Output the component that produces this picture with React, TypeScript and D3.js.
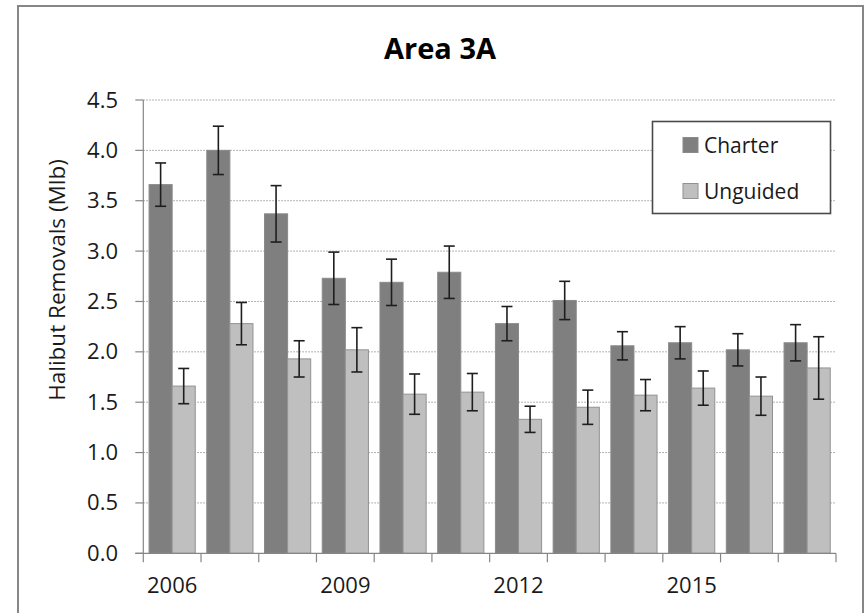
import React from "react";
import * as d3 from "d3";

const years = ["2006", "2007", "2008", "2009", "2010", "2011", "2012", "2013", "2014", "2015", "2016", "2017"];
const seriesNames = ["Charter", "Unguided"];
const charter = [3.66, 4.0, 3.37, 2.73, 2.69, 2.79, 2.28, 2.51, 2.06, 2.09, 2.02, 2.09];
const charterErr = [0.215, 0.24, 0.28, 0.26, 0.23, 0.26, 0.17, 0.19, 0.14, 0.16, 0.16, 0.18];
const unguided = [1.66, 2.28, 1.93, 2.02, 1.58, 1.6, 1.33, 1.45, 1.57, 1.64, 1.56, 1.84];
const unguidedErr = [0.175, 0.21, 0.18, 0.22, 0.2, 0.185, 0.13, 0.17, 0.155, 0.17, 0.19, 0.31];
const yTicks = [0, 0.5, 1, 1.5, 2, 2.5, 3, 3.5, 4, 4.5];
const xTickLabels = ["2006", "2009", "2012", "2015"];
const title = "Area 3A";
const yTitle = "Halibut Removals (Mlb)";

const W = 868;
const H = 613;
const plot = { left: 143.3, right: 836, top: 100, bottom: 553.3 };
const fills = ["#7f7f7f", "#bfbfbf"];
const strokes = ["#8a8a8a", "#929292"];
const FONT = "'Open Sans', 'Noto Sans', sans-serif";

export default function App() {
  const x = d3.scaleBand<string>().domain(years).range([plot.left, plot.right]).padding(0);
  const bw = x.bandwidth();
  const gap = bw * 0.1;
  const xs = d3.scaleBand<string>().domain(seriesNames).range([gap, bw - gap]).padding(0);
  const y = d3.scaleLinear().domain([0, 4.5]).range([plot.bottom, plot.top]);
  const values = [charter, unguided];
  const errs = [charterErr, unguidedErr];
  const fmt = d3.format(".1f");
  const boundaries = years.map((yr) => x(yr) as number).concat([plot.right]);

  return (
    <svg width={W} height={H} style={{ position: "absolute", left: 0, top: 0, display: "block", background: "#fff" }}>
      <rect x={18} y={6} width={845} height={640} fill="#fff" stroke="#878787" strokeWidth={2} />
      <text x={440} y={59} textAnchor="middle" fontFamily={FONT} fontWeight="bold" fontSize={29} fill="#000">
        {title}
      </text>
      {/* gridlines */}
      {yTicks.filter((t) => t > 0).map((t) => (
        <line key={"g" + t} x1={plot.left} x2={plot.right} y1={y(t)} y2={y(t)} stroke="#9a9a9a" strokeWidth={1} strokeDasharray="1.5,1.5" />
      ))}
      {/* bars */}
      {years.map((yr, i) => (
        <g key={yr}>
          {seriesNames.map((s, j) => {
            const bx = (x(yr) as number) + (xs(s) as number);
            const v = values[j][i];
            return (
              <rect key={s} x={bx} y={y(v)} width={xs.bandwidth()} height={y(0) - y(v)} fill={fills[j]} stroke={strokes[j]} strokeWidth={1} />
            );
          })}
        </g>
      ))}
      {/* error bars */}
      {years.map((yr, i) => (
        <g key={"e" + yr}>
          {seriesNames.map((s, j) => {
            const cx = (x(yr) as number) + (xs(s) as number) + xs.bandwidth() / 2;
            const v = values[j][i];
            const e = errs[j][i];
            const y1 = y(v + e);
            const y2 = y(v - e);
            return (
              <g key={s} stroke="#1e1e1e" strokeWidth={1.6}>
                <line x1={cx} x2={cx} y1={y1} y2={y2} />
                <line x1={cx - 5.5} x2={cx + 5.5} y1={y1} y2={y1} />
                <line x1={cx - 5.5} x2={cx + 5.5} y1={y2} y2={y2} />
              </g>
            );
          })}
        </g>
      ))}
      {/* y axis */}
      <line x1={plot.left} x2={plot.left} y1={plot.top} y2={plot.bottom} stroke="#868686" strokeWidth={1.2} />
      {yTicks.map((t) => (
        <g key={"yt" + t}>
          <line x1={plot.left - 8} x2={plot.left} y1={y(t)} y2={y(t)} stroke="#868686" strokeWidth={1.2} />
          <text x={118} y={y(t) + 7.5} textAnchor="end" fontFamily={FONT} fontSize={22} fill="#1a1a1a">
            {fmt(t)}
          </text>
        </g>
      ))}
      {/* x axis */}
      <line x1={plot.left - 8} x2={plot.right} y1={plot.bottom} y2={plot.bottom} stroke="#868686" strokeWidth={1.2} />
      {boundaries.map((bx, i) => (
        <line key={"xt" + i} x1={bx} x2={bx} y1={plot.bottom} y2={plot.bottom + 9} stroke="#868686" strokeWidth={1.2} />
      ))}
      {xTickLabels.map((lbl) => (
        <text key={lbl} x={(x(lbl) as number) + bw / 2} y={593} textAnchor="middle" fontFamily={FONT} fontSize={22} fill="#1a1a1a">
          {lbl}
        </text>
      ))}
      {/* y title */}
      <text transform={`translate(65,280) rotate(-90)`} textAnchor="middle" fontFamily={FONT} fontSize={22.5} fill="#1a1a1a">
        {yTitle}
      </text>
      {/* legend */}
      <rect x={652.5} y={121.5} width={178} height={92} fill="#fff" stroke="#4a4a4a" strokeWidth={1.6} />
      {seriesNames.map((s, j) => (
        <g key={"l" + s}>
          <rect x={683} y={137.5 + j * 46} width={15} height={15} fill={fills[j]} stroke={strokes[j]} strokeWidth={1} />
          <text x={704} y={152.5 + j * 46} fontFamily={FONT} fontSize={21} fill="#1a1a1a">
            {s}
          </text>
        </g>
      ))}
    </svg>
  );
}
